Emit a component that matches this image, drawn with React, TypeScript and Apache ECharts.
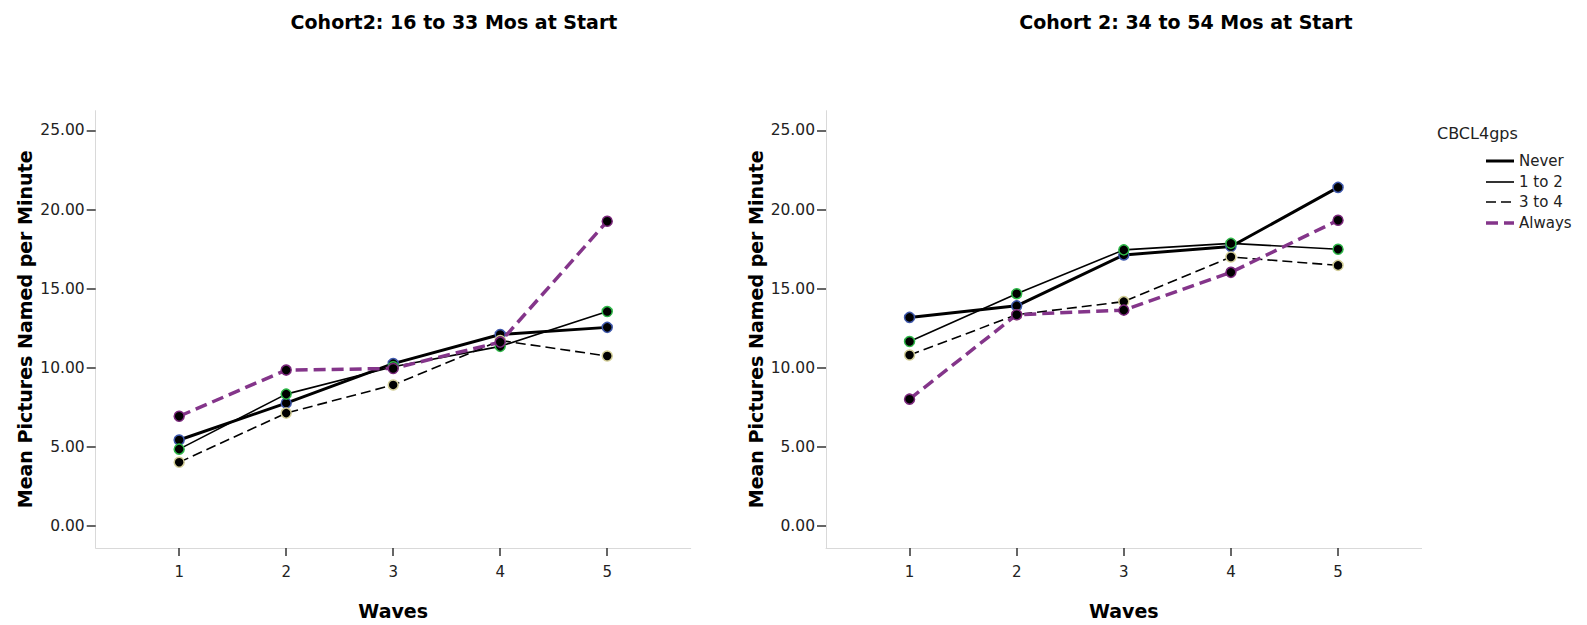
import React, { useEffect, useRef } from "react";
import * as echarts from "echarts";

const waves = [1, 2, 3, 4, 5];
const groupNames = ["Never", "1 to 2", "3 to 4", "Always"];

const leftNever = [5.43, 7.76, 10.26, 12.1, 12.55];
const left1to2 = [4.85, 8.33, 10.06, 11.35, 13.55];
const left3to4 = [4.02, 7.13, 8.91, 11.72, 10.74];
const leftAlways = [6.93, 9.85, 9.95, 11.62, 19.26];

const rightNever = [13.18, 13.91, 17.13, 17.66, 21.4];
const right1to2 = [11.66, 14.68, 17.45, 17.86, 17.49];
const right3to4 = [10.8, 13.35, 14.18, 17.0, 16.47];
const rightAlways = [8.01, 13.35, 13.64, 16.03, 19.32];

const yTicks = [0, 5, 10, 15, 20, 25];
const titles = ["Cohort2: 16 to 33 Mos at Start", "Cohort 2: 34 to 54 Mos at Start"];
const legendTitle = "CBCL4gps";
const xName = "Waves";
const yName = "Mean Pictures Named per Minute";

const FONT = "DejaVu Sans";
const PURPLE = "#84358A";

const lineStyles = [
  { color: "#000", width: 3, type: "solid" as any },
  { color: "#000", width: 1.6, type: "solid" as any },
  { color: "#000", width: 1.6, type: [10, 5] as any },
  { color: PURPLE, width: 3.5, type: [12, 6] as any },
];
const borderColors = ["#3E58AC", "#2EB848", "#D3CE97", "#7C287D"];

export default function App() {
  const ref = useRef<HTMLDivElement>(null);
  useEffect(() => {
    if (!ref.current) return;
    const chart = echarts.init(ref.current, null, { renderer: "svg" });
    const panels = [
      [leftNever, left1to2, left3to4, leftAlways],
      [rightNever, right1to2, right3to4, rightAlways],
    ];
    const series: any[] = [];
    panels.forEach((groups, p) => {
      groups.forEach((vals, g) => {
        series.push({
          type: "line",
          name: groupNames[g],
          xAxisIndex: p,
          yAxisIndex: p,
          data: waves.map((w, i) => [w, vals[i]]),
          symbol: "circle",
          symbolSize: 10,
          showSymbol: true,
          lineStyle: lineStyles[g],
          itemStyle: { color: "#000", borderColor: borderColors[g], borderWidth: 1.5 },
          z: 2 + g,
        });
      });
    });
    const xAxis = [0, 1].map((i) => ({
      type: "value",
      gridIndex: i,
      min: 0.22,
      max: 5.78,
      name: xName,
      nameLocation: "middle",
      nameGap: 53,
      nameTextStyle: { fontFamily: FONT, fontWeight: "bold", fontSize: 19, color: "#000" },
      axisLine: { show: true, onZero: false, lineStyle: { color: "#d9d9d9", width: 1 } },
      axisTick: { show: true, customValues: waves, length: 8, lineStyle: { color: "#333", width: 1.5 } },
      axisLabel: {
        customValues: waves,
        fontFamily: FONT,
        fontSize: 15,
        color: "#222",
        margin: 16,
      },
      splitLine: { show: false },
    }));
    const yAxis = [0, 1].map((i) => ({
      type: "value",
      gridIndex: i,
      min: -1.4,
      max: 26.25,
      name: yName,
      nameLocation: "middle",
      nameGap: 61,
      nameRotate: 90,
      nameTextStyle: { fontFamily: FONT, fontWeight: "bold", fontSize: 19, color: "#000" },
      axisLine: { show: true, onZero: false, lineStyle: { color: "#d9d9d9", width: 1 } },
      axisTick: { show: true, customValues: yTicks, length: 9, lineStyle: { color: "#333", width: 1.5 } },
      axisLabel: {
        customValues: yTicks,
        formatter: (v: number) => v.toFixed(2),
        fontFamily: FONT,
        fontSize: 15.5,
        color: "#222",
        margin: 11,
      },
      splitLine: { show: false },
    }));
    const legendYs = [161, 182, 202, 223];
    const graphic: any[] = [
      {
        type: "text",
        x: 1437,
        y: 133,
        style: { text: legendTitle, fontFamily: FONT, fontSize: 16, fill: "#222", verticalAlign: "middle" },
      },
    ];
    groupNames.forEach((n, g) => {
      graphic.push({
        type: "line",
        shape: { x1: 1486, y1: legendYs[g], x2: 1514, y2: legendYs[g] },
        style: {
          stroke: lineStyles[g].color,
          lineWidth: lineStyles[g].width,
          lineDash: Array.isArray(lineStyles[g].type) ? lineStyles[g].type : null,
        },
      });
      graphic.push({
        type: "text",
        x: 1519,
        y: legendYs[g],
        style: { text: n, fontFamily: FONT, fontSize: 15, fill: "#222", verticalAlign: "middle" },
      });
    });
    chart.setOption({
      animation: false,
      backgroundColor: "#fff",
      title: [
        {
          text: titles[0],
          left: 449,
          top: 7,
          textAlign: "center",
          textStyle: { fontFamily: FONT, fontWeight: "bold", fontSize: 19, color: "#000" },
        },
        {
          text: titles[1],
          left: 1181,
          top: 7,
          textAlign: "center",
          textStyle: { fontFamily: FONT, fontWeight: "bold", fontSize: 19, color: "#000" },
        },
      ],
      grid: [
        { left: 95.7, top: 110.7, width: 595, height: 442.6, containLabel: false },
        { left: 826, top: 110.7, width: 595.6, height: 442.6, containLabel: false },
      ],
      xAxis,
      yAxis,
      series,
      graphic,
    });
    return () => chart.dispose();
  }, []);
  return (
    <div
      ref={ref}
      style={{ position: "absolute", left: 0, top: 0, width: 1587, height: 625 }}
    />
  );
}
